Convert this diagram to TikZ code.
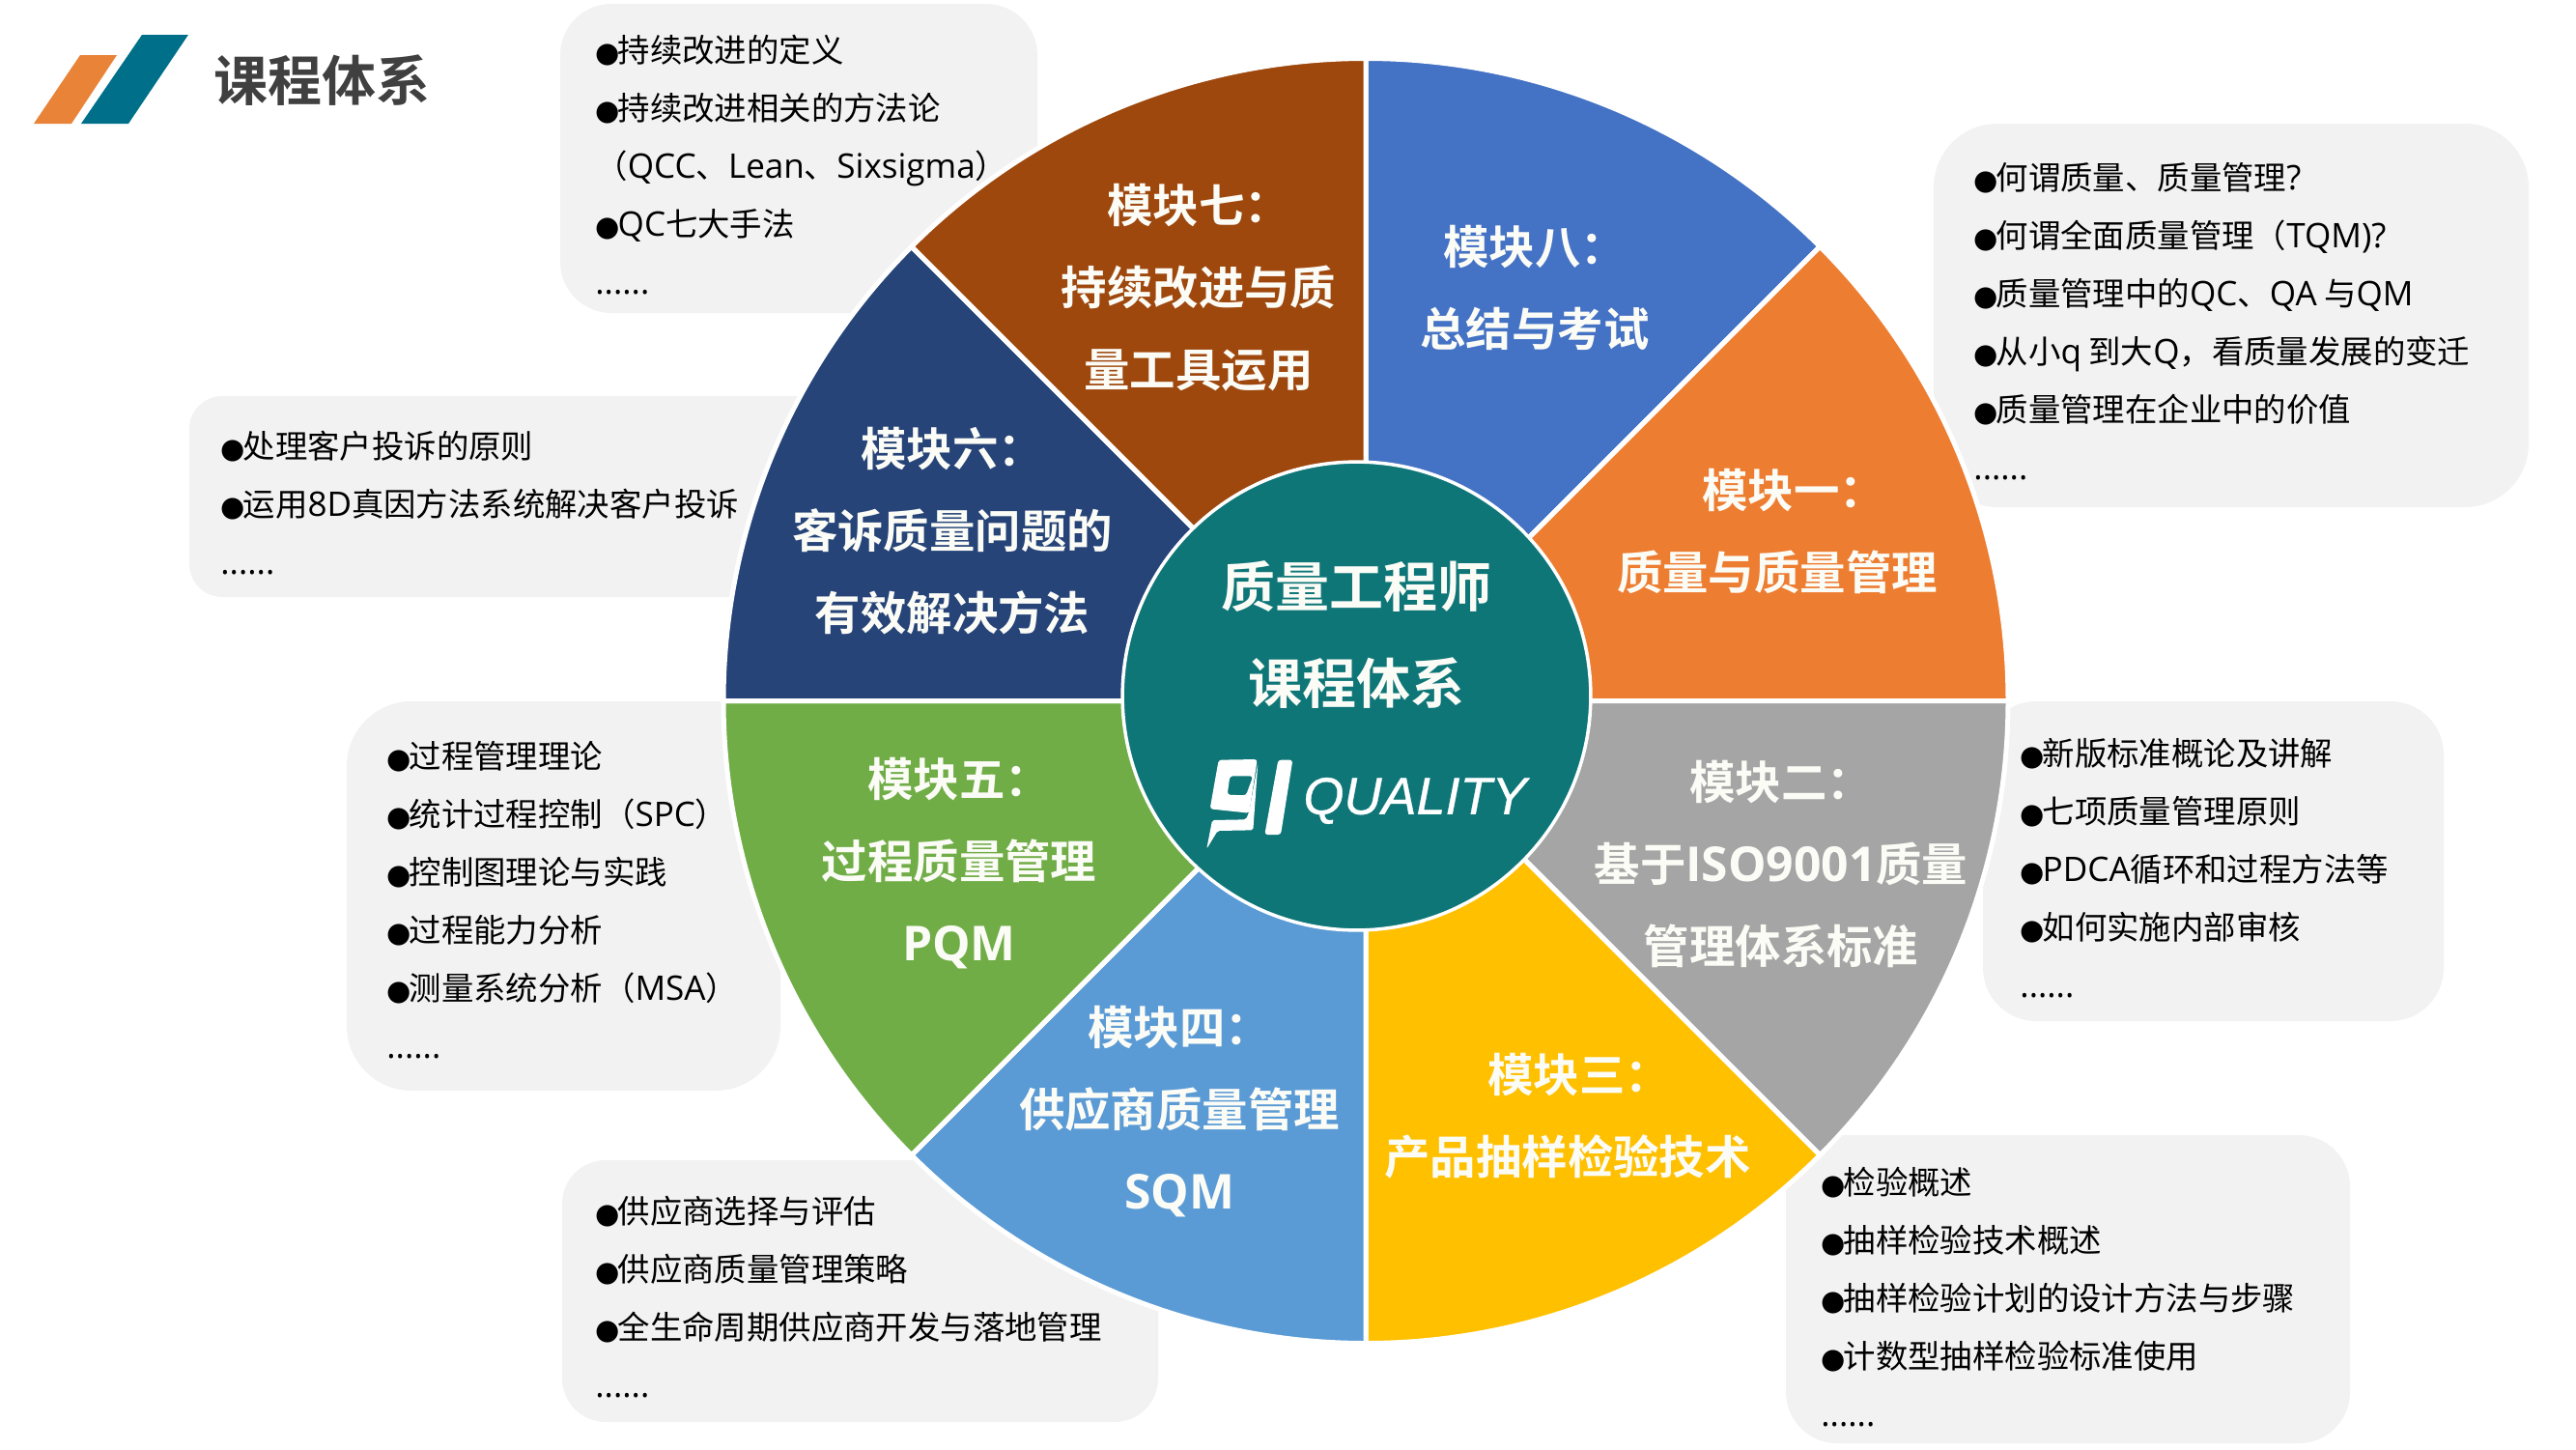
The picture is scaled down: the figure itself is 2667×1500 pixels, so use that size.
\documentclass[tikz,border=0pt]{standalone}
\usepackage{fontspec}
\setmainfont{Noto Sans CJK SC}[BoldFont={Noto Sans CJK SC Bold}]
\newfontfamily\bulletfont{DejaVu Sans}
\newfontfamily\logofont{Liberation Sans}
\newfontfamily\latinfont{Open Sans}[Scale=1.05]
\definecolor{modeight}{HTML}{4472C4}
\definecolor{modone}{HTML}{ED7D31}
\definecolor{modtwo}{HTML}{A5A5A5}
\definecolor{modthree}{HTML}{FFC000}
\definecolor{modfour}{HTML}{5B9BD5}
\definecolor{modfive}{HTML}{70AD47}
\definecolor{modsix}{HTML}{264478}
\definecolor{modseven}{HTML}{9E480E}
\definecolor{hubteal}{HTML}{0F7678}
\definecolor{barteal}{HTML}{00708A}
\definecolor{barorange}{HTML}{E88338}
\definecolor{notegray}{HTML}{F2F2F2}
\definecolor{offwhite}{HTML}{FCFCF7}
\definecolor{titlegray}{HTML}{404040}
\newcommand{\bul}{{\bulletfont\fontsize{14.5}{14.5}\selectfont ●}\kern-1pt}
\newcommand{\la}[1]{{\latinfont #1}}
\tikzset{
  notebox/.style={fill=notegray},
  notetext/.style={anchor=west, inner sep=0pt, align=left, text=black, font=\fontsize{16.7}{30}\selectfont},
  modtext/.style={inner sep=0pt, align=center, text=offwhite, font=\bfseries\fontsize{23.7}{42.5}\selectfont},
  hubtext/.style={inner sep=0pt, align=center, text=offwhite, font=\bfseries\fontsize{28}{50}\selectfont},
  sectorline/.style={draw=white, line width=2.5pt}
}
\begin{document}
\begin{tikzpicture}[x=0.5pt,y=-0.5pt]
\useasboundingbox (0,0) rectangle (2667,1500);

% title
  \fill[barorange] (83,57) -- (121,57) -- (74,128) -- (35,128) -- cycle;
  \fill[barteal] (147,36) -- (195,36) -- (133,128) -- (84,128) -- cycle;
  \node[inner sep=0pt, text=titlegray, font=\bfseries\fontsize{28}{30}\selectfont] (title) at (333,83) {课程体系};

% note boxes
  \fill[notebox, rounded corners=26.5pt] (580,4) rectangle (1074,324);
  \fill[notebox, rounded corners=33pt] (2002,128) rectangle (2618,525);
  \fill[notebox, rounded corners=17pt] (196,410) rectangle (900,618);
  \fill[notebox, rounded corners=33.5pt] (359,726) rectangle (808,1129);
  \fill[notebox, rounded corners=22.5pt] (582,1201) rectangle (1199,1472);
  \fill[notebox, rounded corners=27.5pt] (2053,726) rectangle (2530,1057);
  \fill[notebox, rounded corners=26.5pt] (1849,1175) rectangle (2433,1494);

% sectors
\pgfmathsetmacro{\xo}{1414}
\pgfmathsetmacro{\yo}{725.5}
\newcommand{\sector}[3]{\filldraw[fill=#1, sectorline] (\xo,\yo) -- +(-#2:665) arc[start angle=#2, end angle=#3, radius=332.5pt] -- cycle;}
  \sector{modeight}{90}{45}
  \sector{modone}{45}{0}
  \sector{modtwo}{0}{-45}
  \sector{modthree}{-45}{-90}
  \sector{modfour}{-90}{-135}
  \sector{modfive}{-135}{-180}
  \sector{modsix}{180}{135}
  \sector{modseven}{135}{90}

% hub
  \filldraw[fill=hubteal, draw=white, line width=1.75pt] (1404.5,720.5) circle[radius=121.2pt];
  \node[hubtext] (hub) at (1404,657) {质量工程师\\课程体系};

% logo
\begin{scope}[shift={(1240,780)}, x=0.16667pt, y=-0.16667pt]
  \fill[white, even odd rule, rounded corners=1.5pt] (65,20) -- (185,18) -- (160,185) -- (38,172) -- cycle
    (100,70) -- (172,70) -- (150,130) -- (92,128) -- cycle;
  \fill[white, rounded corners=1pt] (45,207) -- (150,205) -- (160,180) -- (187,30) -- (172,238) -- (62,240) -- (28,296) -- cycle;
  \fill[white, rounded corners=1.5pt] (250,20) -- (295,20) -- (258,252) -- (208,252) -- cycle;
\end{scope}
  \node[inner sep=0pt, text=white, font=\logofont\itshape\addfontfeature{FakeBold=0.6}\fontsize{27}{30}\selectfont] (logotext) at (1465,829) {QUALITY};

% module labels
  \node[modtext] (mod8) at (1589,298) {模块八：\\总结与考试};
  \node[modtext] (mod1) at (1840,550) {\hspace*{17pt}模块一：\\质量与质量管理};
  \node[modtext] (mod2) at (1844,894.5) {模块二：\\基于\la{ISO9001}质量\\管理体系标准};
  \node[modtext] (mod3) at (1623,1155) {\hspace*{12pt}模块三：\\产品抽样检验技术};
  \node[modtext] (mod4) at (1221,1151) {模块四：\\供应商质量管理\\\la{SQM}};
  \node[modtext] (mod5) at (993,894) {模块五：\\过程质量管理\\\la{PQM}};
  \node[modtext] (mod6) at (986,550) {模块六：\\客诉质量问题的\\有效解决方法};
  \node[modtext] (mod7) at (1241,298) {模块七：\\持续改进与质\\量工具运用};

% notes
  \node[notetext] (note7) at (616,170.5) {\bul 持续改进的定义\\\bul 持续改进相关的方法论\\（\la{QCC}、\la{Lean}、\la{Sixsigma}）\\\bul \la{QC}七大手法\\\la{......}};
  \node[notetext] (note1) at (2043,333) {\bul 何谓质量、质量管理\la{?}\\\bul 何谓全面质量管理（\la{TQM)?}\\\bul 质量管理中的\la{QC}、\la{QA} 与\la{QM}\\\bul 从小\la{q} 到大\la{Q}，看质量发展的变迁\\\bul 质量管理在企业中的价值\\\la{......}};
  \node[notetext] (note6) at (228,521) {\bul 处理客户投诉的原则\\\bul 运用\la{8D}真因方法系统解决客户投诉\\\la{......}};
  \node[notetext] (note5) at (400,931.5) {\bul 过程管理理论\\\bul 统计过程控制（\la{SPC}）\\\bul 控制图理论与实践\\\bul 过程能力分析\\\bul 测量系统分析（\la{MSA}）\\\la{......}};
  \node[notetext] (note4) at (616,1342.5) {\bul 供应商选择与评估\\\bul 供应商质量管理策略\\\bul 全生命周期供应商开发与落地管理\\\la{......}};
  \node[notetext] (note2) at (2091,898.5) {\bul 新版标准概论及讲解\\\bul 七项质量管理原则\\\bul \la{PDCA}循环和过程方法等\\\bul 如何实施内部审核\\\la{......}};
  \node[notetext] (note3) at (1885,1343) {\bul 检验概述\\\bul 抽样检验技术概述\\\bul 抽样检验计划的设计方法与步骤\\\bul 计数型抽样检验标准使用\\\la{......}};
\end{tikzpicture}
\end{document}
